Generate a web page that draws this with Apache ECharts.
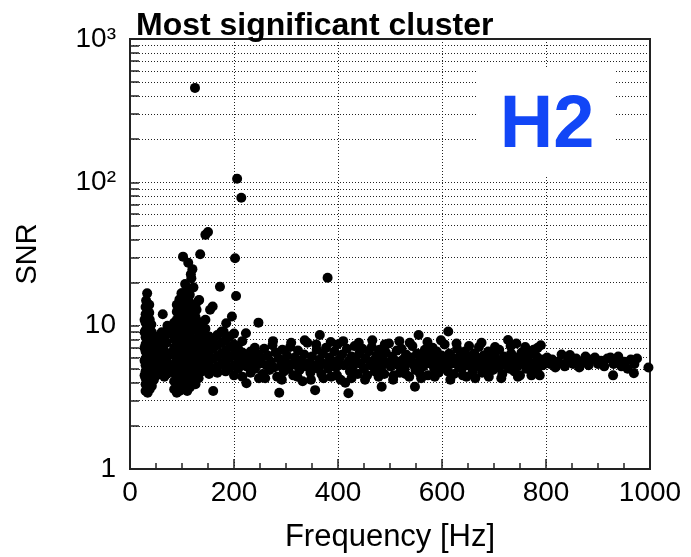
<!DOCTYPE html>
<html><head><meta charset="utf-8">
<script src="https://cdn.jsdelivr.net/npm/echarts@6/dist/echarts.min.js"></script>
<style>html,body{margin:0;padding:0;background:#fff}#c{width:691px;height:557px}</style>
</head><body><div id="c"></div>
<script>
// ---- data: [frequency Hz, SNR] ----
const lowColumn = [
 [30,3.5],[30,3.9],[30,4.3],[30,4.8],[30,5.3],[30,5.9],[30,6.6],[30,7.4],[30,8.3],[30,9.3],[30,10.5],[30,12],[30,13.5],[31,15],
 [34,3.4],[34,3.7],[34,4.1],[34,4.6],[34,5.1],[34,5.6],[34,6.2],[34,7],[34,7.8],[34,8.8],[34,9.9],[34,11.2],[34,12.6],[33,14.2],[33,16.8],
 [38,3.6],[38,4],[38,4.4],[38,4.9],[38,5.4],[38,6],[38,6.8],[38,7.6],[38,8.5],[38,9.6],[38,11],[37,12.3],[37,14],
 [42,3.8],[42,4.2],[42,4.7],[42,5.2],[42,5.8],[42,6.4],[42,7.2],[42,8],[42,9],[41,10.2],
 [46,4.2],[46,4.8],[46,5.5],[46,6.3],[46,7.1],[46,8.2],
 [28,4.5],[28,5.7],[28,7],[28,9],[28,11]
];
const gapPoints = [
 [50,5.2],[50,6],[50,7.5],[51,4.5],[55,5.6],[55,6.6],[55,8.4],[56,4.8],[60,5],[60,6.2],[60,7.2],[61,9],
 [63,12],[65,5.4],[65,6.8],[66,8],[66,4.4],[70,5.8],[70,7.6],[71,4.6],[72,10],[75,5.1],[75,6.4],[76,8.8],[77,9]
];
const cluster = [
 [85,3.6],[85,4.1],[85,4.7],[85,5.4],[85,6.2],[85,7],[85,8],[85,9.2],[85,10.5],
 [90,3.4],[90,3.8],[90,4.4],[90,5],[90,5.7],[90,6.5],[90,7.4],[90,8.5],[90,9.7],[90,11],[90,12.5],[90,14],
 [95,3.5],[95,4],[95,4.6],[95,5.2],[95,6],[95,6.8],[95,7.8],[95,8.9],[95,10.2],[95,11.7],[95,13.3],[95,15.2],
 [100,3.6],[100,4.2],[100,4.8],[100,5.5],[100,6.3],[100,7.2],[100,8.2],[100,9.4],[100,10.7],[100,12.2],[100,14],[100,16.8],
 [105,3.9],[105,4.4],[105,5],[105,5.8],[105,6.6],[105,7.6],[105,8.7],[105,9.9],[105,11.3],[105,12.9],[105,14.8],
 [110,3.5],[110,4],[110,4.6],[110,5.3],[110,6.1],[110,7],[110,8],[110,9.2],[110,10.5],[110,12],[110,13.7],[110,16.4],
 [115,3.7],[115,4.3],[115,4.9],[115,5.6],[115,6.4],[115,7.3],[115,8.4],[115,9.6],[115,11],[115,12.6],[115,14.5],
 [120,4.1],[120,4.7],[120,5.4],[120,6.2],[120,7.1],[120,8.1],[120,9.3],[120,10.8],[120,12.9],
 [126,3.9],[126,4.5],[126,5.2],[126,6],[126,6.9],[126,8],[126,9.5],[126,11.5],[126,14],
 [132,4.3],[132,5],[132,5.8],[132,6.7],[132,7.8],[132,9],[132,10.6],[132,15]
];
const outliers = [
 [125,456],[206,106],[214,78],[150,45],[145,43],[135,31.5],[102,30.3],[202,29.5],[112,27.5],[120,24.8],
 [117,22.8],[118,21.4],[380,21.6],[106,19.5],[122,18.5],[110,18],[173,18.7],[99,16.8],[115,16.4],[204,16.1],
 [133,15.1],[159,13.6],[154,12.9],[128,12.9],[196,11.6],[185,10.4],[247,10.5],[180,9.1],[223,8.85]
];
const midBand = [
 [138,4.8],[138,5.5],[138,6.4],[138,7.5],[138,8.7],[138,10],
 [145,5],[145,5.8],[145,6.8],[145,8],[145,9.5],[145,11],
 [152,4.6],[152,5.3],[152,6.2],[152,7.2],[152,8.4],
 [160,3.5],[160,5],[160,5.9],[160,6.9],[160,8.1],
 [168,4.7],[168,5.2],[168,6.1],[168,7.3],[168,8.6],
 [176,5.4],[176,6.4],[176,7.6],[176,9.1],
 [184,4.8],[184,5.7],[184,6.7],[184,8],
 [192,5.1],[192,6],[192,7.1],[192,8.4],
 [200,4.5],[200,5.3],[200,6.3],[200,7.4],[200,8.8],
 [208,5],[208,5.9],[208,6.9],
 [216,4.4],[216,5.5],[216,6.5],[216,7.8],
 [224,3.96],[224,5.2],[224,6.1],
 [232,4.7],[232,5.6],[232,6.6],
 [240,5],[240,5.9],[240,7],
 [248,4.3],[248,5.4],[248,6.3]
];
const band = [
 [252,5.8],[255,4.6],[258,6.9],[262,5.3],[265,6.2],[268,4.9],[271,5.6],[274,7.3],[277,5.1],[280,6.5],[283,4.4],[287,3.4],
 [286,5.9],[290,5.2],[293,6.8],[296,4.8],[299,5.6],[302,6.2],[305,5],[308,7.1],[311,5.4],[314,4.5],[317,6],[320,5.3],
 [323,6.7],[326,4.9],[329,5.7],[332,4.1],[335,6.3],[338,5.2],[341,7.6],[344,5.5],[347,4.7],[350,6.1],[353,5.3],[356,3.55],
 [359,6.8],[362,5],[365,8.6],[365,5.8],[368,4.6],[371,6.4],[374,5.4],[377,7],[381,5],[384,6],[387,4.4],[390,5.6],
 [393,6.6],[396,5.1],[399,7.4],[402,5.8],[405,4.2],[408,6.3],[411,5.3],[414,4],[417,6.9],[420,3.38],[420,5.6],[423,4.8],
 [426,6.1],[429,5.2],[432,7.2],[435,5.7],[438,4.6],[441,6.4],[444,5.4],[447,6.9],[450,5],[453,5.9],[456,4.5],[459,6.6],
 [462,5.3],[465,7.1],[468,5.7],[471,4.8],[474,6.2],[477,5.4],[480,6.8],[484,3.75],[483,5.1],[486,5.9],[489,4.6],[492,6.5],
 [495,5.5],[498,7.5],[501,5.2],[504,6.1],[507,4.5],[510,5.7],[513,6.7],[516,5.3],[519,4.7],[522,6.9],[525,5.8],[528,5],
 [531,6.3],[534,5.5],[537,4.4],[540,6],[543,7.2],[546,5.3],[548,3.75],[549,4.9],[552,6.4],[555,8.6],[555,5.6],[558,4.6],
 [561,6.1],[564,5.2],[567,6.8],[570,5.7],[573,4.5],[576,6.3],[579,5.4],[582,7],[585,5],[588,5.9],[590,6.6],[593,4.7],
 [596,5.5],[599,6.2],[602,5.1],[605,7.4],[608,5.8],[612,9.1],[611,4.8],[614,6.4],[617,5.4],[620,6],[623,4.6],[626,5.6],
 [629,6.9],[632,5.2],[635,6.2],[638,5],[641,5.7],[644,6.6],[647,4.4],[650,5.3],[653,6.1],[656,5.5],[659,4.8],[662,6.4],
 [665,5.2],[668,5.9],[671,7.1],[674,5.4],[677,4.7],[680,6.2],[683,5.6],[686,5],[689,6.6],[692,5.3],[695,5.9],[698,4.9],
 [701,6.3],[704,5.5],[707,5.1],[710,6.8],[713,5.7],[716,4.6],[719,6.1],[722,5.3],[725,5.8],[727,7.95],[730,5],[733,6.4],
 [736,5.5],[739,4.8],[743,7.5],[742,6],[745,5.2],[748,5.7],[750,4.5],[753,6.5],[756,5.4],[759,6],[762,5],[765,5.7],
 [768,6.3],[771,5.2],[774,4.9],[776,6.8],[779,5.5],[782,6.1],[785,5.1],[788,4.5],[790,7.3],[791,5.8],[794,5.3]
];
const bandSpread = [
 [260,4.3],[275,7.8],[292,4.2],[310,7.6],[322,4.4],[336,7.9],[348,4.2],[358,7.4],[372,4.3],[386,7.7],[398,4.5],
 [410,7.8],[426,4.3],[440,7.6],[452,4.2],[466,7.9],[478,4.4],[490,7.4],[506,4.2],[518,7.8],[530,4.6],[538,7.6],
 [560,4.3],[572,7.7],[586,4.4],[598,7.9],[616,4.2],[628,7.5],[640,4.5],[652,7.2],[664,4.3],[676,7.6],[690,4.4],
 [702,7.1],[714,4.3],[732,7.2],[746,4.4],[760,7.1],[772,4.5],[784,7]
];
const highBand = [
 [802,6],[808,5.4],[812,5.8],[818,5.1],[824,5.6],[830,6.3],[836,5.2],[842,5.7],[846,6.25],[852,5.4],[858,5.9],[864,5.1],
 [870,5.6],[876,6.1],[882,5.3],[888,5.8],[894,6],[900,5.4],[906,5.7],[912,5.2],[918,5.9],[924,6],[929,4.5],[930,5.4],
 [936,5.8],[939,6.1],[945,5.2],[951,5.6],[957,5],[963,5.8],[969,4.65],[970,5.4],[975,5.9],[997,5.1]
];
const xTickValues = [0, 200, 400, 600, 800, 1000];
const xTickLabels = ['0', '200', '400', '600', '800', '1000'];
const yTickValues = [1, 10, 100, 1000];
const yTickLabels = ['1', '10', '10\u00B2', '10\u00B3'];
const yMinorValues = [1,2,3,4,5,6,7,8,9,10,20,30,40,50,60,70,80,90,100,200,300,400,500,600,700,800,900,1000];

const FONT = 'Liberation Sans';
const chart = echarts.init(document.getElementById('c'), null, {renderer: 'canvas'});
const allPoints = [].concat(lowColumn, gapPoints, cluster, outliers, midBand, band, bandSpread, highBand);

chart.setOption({
  animation: false,
  backgroundColor: '#fff',
  textStyle: {fontFamily: FONT},
  title: {
    text: 'Most significant cluster', left: 131, top: 5,
    textStyle: {fontFamily: FONT, fontWeight: 'bold', fontSize: 32, color: '#000'}
  },
  grid: {left: 130, top: 39, width: 520, height: 430, show: true, borderColor: '#222', borderWidth: 2,
         backgroundColor: 'transparent', containLabel: false, outerBoundsMode: 'none'},
  xAxis: {
    type: 'value', min: 0, max: 1000, interval: 200,
    axisLine: {show: true, lineStyle: {color: '#222', width: 2}},
    axisTick: {show: true, inside: true, length: 10, lineStyle: {color: '#222', width: 1.5}},
    minorTick: {show: true, splitNumber: 4, length: 6, lineStyle: {color: '#222', width: 1.5}},
    splitLine: {show: true, lineStyle: {color: '#222', width: 1, type: [1, 2]}},
    axisLabel: {
      fontFamily: FONT, fontSize: 28, color: '#000', margin: 10,
      formatter: v => { const i = xTickValues.indexOf(Math.round(v)); return i >= 0 ? xTickLabels[i] : ''; }
    },
    name: 'Frequency [Hz]', nameLocation: 'middle', nameGap: 53,
    nameTextStyle: {fontFamily: FONT, fontSize: 31, color: '#000'}
  },
  yAxis: {
    type: 'log', logBase: 10, min: 1, max: 1000,
    axisLine: {show: true, lineStyle: {color: '#222', width: 2}},
    axisTick: {show: true, inside: true, length: 9, customValues: yMinorValues, lineStyle: {color: '#222', width: 1.5}},
    splitLine: {show: true, lineStyle: {color: '#222', width: 1, type: [1, 2]}},
    axisLabel: {
      fontFamily: FONT, fontSize: 28, color: '#000', margin: 14, customValues: yTickValues,
      formatter: v => { const i = yTickValues.indexOf(Math.round(v)); return i >= 0 ? yTickLabels[i] : ''; }
    },
    name: 'SNR', nameLocation: 'middle', nameGap: 88, nameRotate: 90,
    nameTextStyle: {fontFamily: FONT, fontSize: 29, color: '#000'}
  },
  graphic: [
    {type: 'rect', z: 100, shape: {x: 478, y: 69, width: 136, height: 108}, style: {fill: '#fff'}},
    {type: 'text', z: 101, x: 547, y: 127, style: {text: 'H2', fill: '#1246f6', font: 'bold 74px "Liberation Sans"', align: 'center', verticalAlign: 'middle'}}
  ],
  series: [{
    type: 'scatter', data: allPoints, symbol: 'circle', symbolSize: 10,
    itemStyle: {color: '#000', opacity: 1}, silent: true
  }]
});
</script></body></html>
